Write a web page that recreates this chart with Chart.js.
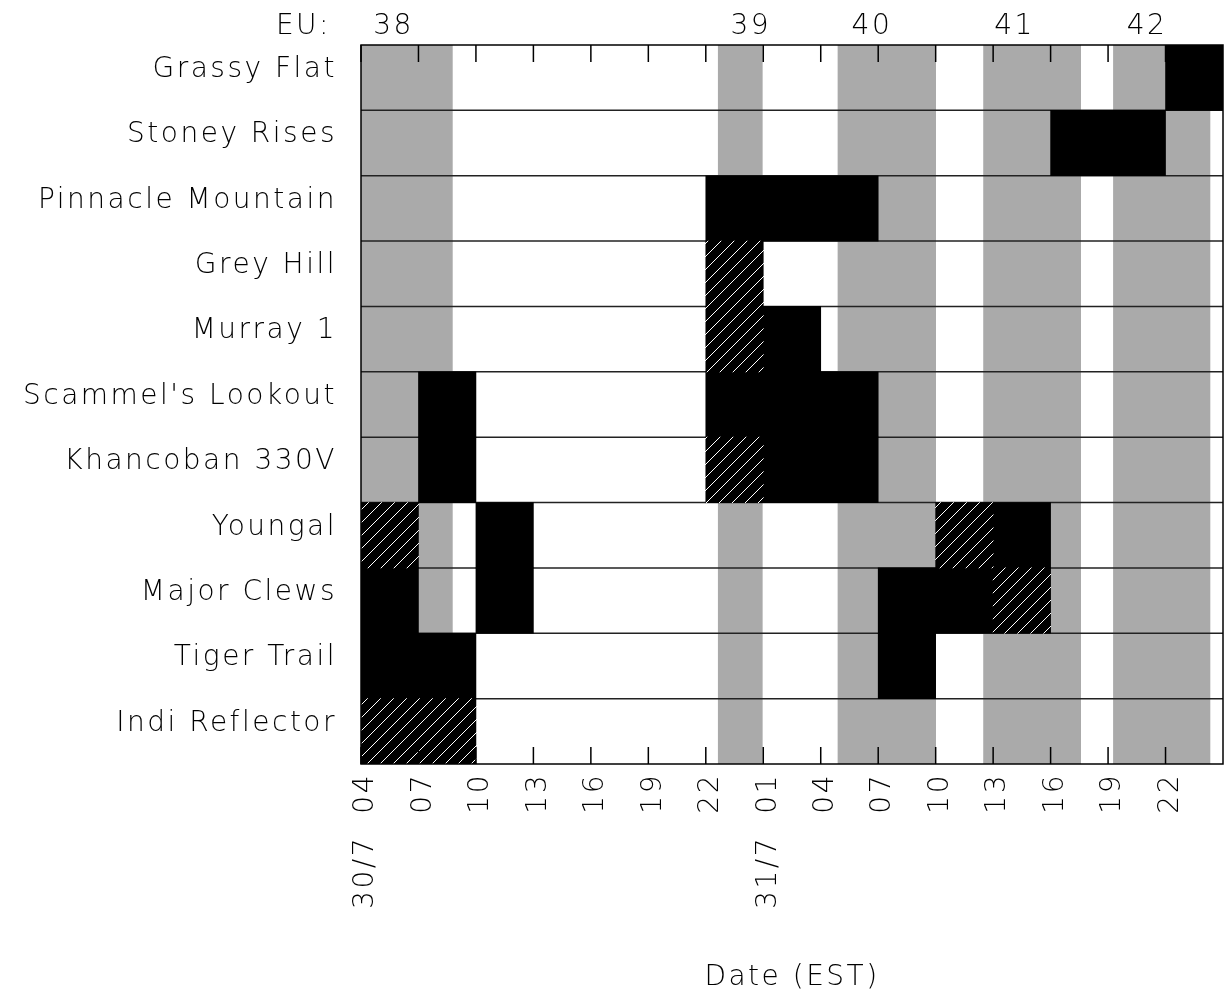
<!DOCTYPE html>
<html>
<head>
<meta charset="utf-8">
<script src="https://cdn.jsdelivr.net/npm/chart.js@4.4.1/dist/chart.umd.min.js"></script>
<style>
  html, body { margin: 0; padding: 0; background: #ffffff; }
  #wrap { width: 1224px; height: 997px; position: relative; }
</style>
</head>
<body>
<div id="wrap"><canvas id="c" width="1224" height="997"></canvas></div>
<script>
// ---- Data (hours after 04:00 on 30/7) ----
const stations = [
  'Grassy Flat', 'Stoney Rises', 'Pinnacle Mountain', 'Grey Hill', 'Murray 1',
  "Scammel's Lookout", 'Khancoban 330V', 'Youngal', 'Major Clews', 'Tiger Trail', 'Indi Reflector'
];

// grey periods per station
const greySegments = [
  [[0, 4.77], [18.65, 20.95], [24.9, 30], [32.5, 37.57], [39.28, 42]],
  [[0, 4.77], [18.65, 20.95], [24.9, 30], [32.5, 36], [42, 44.32]],
  [[0, 4.77], [27, 30], [32.5, 37.57], [39.28, 44.32]],
  [[0, 4.77], [24.9, 30], [32.5, 37.57], [39.28, 44.32]],
  [[0, 4.77], [24.9, 30], [32.5, 37.57], [39.28, 44.32]],
  [[0, 3], [27, 30], [32.5, 37.57], [39.28, 44.32]],
  [[0, 3], [27, 30], [32.5, 37.57], [39.28, 44.32]],
  [[3, 4.77], [18.65, 20.95], [24.9, 30], [36, 37.57], [39.28, 44.32]],
  [[3, 4.77], [18.65, 20.95], [24.9, 27], [36, 37.57], [39.28, 44.32]],
  [[18.65, 20.95], [24.9, 27], [32.5, 37.57], [39.28, 44.32]],
  [[18.65, 20.95], [24.9, 30], [32.5, 37.57], [39.28, 44.32]]
];

// black periods per station
const blackSegments = [
  [[42, 45]],
  [[36, 42]],
  [[18, 27]],
  [],
  [[21, 24]],
  [[3, 6], [18, 27]],
  [[3, 6], [21, 27]],
  [[6, 9], [33, 36]],
  [[0, 3], [6, 9], [27, 33]],
  [[0, 6], [27, 30]],
  []
];

// hatched periods per station
const hatchSegments = [
  [],
  [],
  [],
  [[18, 21]],
  [[18, 21]],
  [],
  [[18, 21]],
  [[0, 3], [30, 33]],
  [[33, 36]],
  [],
  [[0, 6]]
];

const tickHours  = [0, 3, 6, 9, 12, 15, 18, 21, 24, 27, 30, 33, 36, 39, 42];
const tickLabels = ['04','07','10','13','16','19','22','01','04','07','10','13','16','19','22'];
const dateHours  = [0, 21];
const dateLabels = ['30/7', '31/7'];
const euHours    = [1.7, 20.35, 26.67, 34.12, 41.03];
const euLabels   = ['38', '39', '40', '41', '42'];
const xMin = 0, xMax = 45;

// ---- Styles ----
const FONT_FAMILY = "'DejaVu Sans', sans-serif";
const FONT_SIZE = 28;
const FONT_WEIGHT = 200;
const LETTER_SP = '2.5px';
const GREY = '#aaaaaa';

function makeHatch() {
  const s = 13;
  const c = document.createElement('canvas');
  c.width = s; c.height = s;
  const g = c.getContext('2d');
  g.fillStyle = '#000';
  g.fillRect(0, 0, s, s);
  g.strokeStyle = '#fff';
  g.lineWidth = 1;
  g.beginPath();
  g.moveTo(-1, s + 1); g.lineTo(s + 1, -1);
  g.stroke();
  return g.createPattern(c, 'repeat');
}
const hatch = makeHatch();

function toPoints(segs) {
  const pts = [];
  segs.forEach((row, i) => row.forEach(s => pts.push({ x: [s[0], s[1]], y: stations[i] })));
  return pts;
}

const barCommon = {
  borderWidth: 0,
  borderSkipped: false,
  barPercentage: 1.0,
  categoryPercentage: 1.0,
  grouped: false
};

const fontStr = (sz) => `${FONT_WEIGHT} ${sz}px ${FONT_FAMILY}`;

const overlay = {
  id: 'overlay',
  beforeInit(chart) { chart.ctx.letterSpacing = LETTER_SP; },
  beforeDraw(chart) { chart.ctx.letterSpacing = LETTER_SP; },
  afterDatasetDraw(chart, args) {
    if (chart.data.datasets[args.index].label !== 'grey') return;
    const { ctx, chartArea: a } = chart;
    const ys = chart.scales.y;
    ctx.save();
    ctx.strokeStyle = '#222';
    ctx.lineWidth = 1.5;
    for (let i = 1; i < stations.length; i++) {
      const y = (ys.getPixelForValue(i - 1) + ys.getPixelForValue(i)) / 2;
      ctx.beginPath();
      ctx.moveTo(a.left, y);
      ctx.lineTo(a.right, y);
      ctx.stroke();
    }
    ctx.restore();
  },
  afterDraw(chart) {
    const { ctx, chartArea: a } = chart;
    const xs = chart.scales.x;
    ctx.save();
    ctx.letterSpacing = LETTER_SP;
    // inner tick marks
    ctx.strokeStyle = '#000';
    ctx.lineWidth = 1.5;
    tickHours.forEach(v => {
      const x = xs.getPixelForValue(v);
      ctx.beginPath();
      ctx.moveTo(x, a.top); ctx.lineTo(x, a.top + 17);
      ctx.moveTo(x, a.bottom); ctx.lineTo(x, a.bottom - 17);
      ctx.stroke();
    });
    // frame
    ctx.strokeRect(a.left, a.top, a.right - a.left, a.bottom - a.top);
    // EU labels
    ctx.fillStyle = '#000';
    ctx.font = fontStr(FONT_SIZE);
    ctx.textBaseline = 'alphabetic';
    ctx.textAlign = 'right';
    ctx.fillText('EU:', a.left - 30, 34);
    ctx.textAlign = 'center';
    euHours.forEach((h, i) => ctx.fillText(euLabels[i], xs.getPixelForValue(h), 34));
    // date labels (rotated)
    dateHours.forEach((h, i) => {
      const x = xs.getPixelForValue(h) + 5;
      ctx.save();
      ctx.translate(x, 836);
      ctx.rotate(-Math.PI / 2);
      ctx.textAlign = 'right';
      ctx.textBaseline = 'middle';
      ctx.fillText(dateLabels[i], 0, 0);
      ctx.restore();
    });
    ctx.restore();
  }
};

Chart.defaults.font.family = FONT_FAMILY;
Chart.defaults.font.size = FONT_SIZE;
Chart.defaults.font.weight = FONT_WEIGHT;
Chart.defaults.color = '#000';

new Chart(document.getElementById('c'), {
  type: 'bar',
  data: {
    labels: stations,
    datasets: [
      Object.assign({ label: 'hatched', data: toPoints(hatchSegments), backgroundColor: hatch, order: 1 }, barCommon),
      Object.assign({ label: 'black', data: toPoints(blackSegments), backgroundColor: '#000000', order: 2 }, barCommon),
      Object.assign({ label: 'grey', data: toPoints(greySegments), backgroundColor: GREY, order: 3 }, barCommon)
    ]
  },
  options: {
    indexAxis: 'y',
    responsive: false,
    animation: false,
    devicePixelRatio: 1,
    layout: { padding: { top: 45, right: 1, left: 0, bottom: 0 } },
    plugins: {
      legend: { display: false },
      tooltip: { enabled: false }
    },
    scales: {
      x: {
        type: 'linear',
        min: xMin,
        max: xMax,
        grid: { display: false, drawTicks: false },
        border: { display: false },
        afterBuildTicks(s) { s.ticks = tickHours.map(v => ({ value: v })); },
        afterFit(s) { s.height = 233; },
        ticks: {
          autoSkip: false,
          minRotation: 90,
          maxRotation: 90,
          padding: 9,
          labelOffset: 5,
          color: '#000',
          callback: (v, i) => tickLabels[i]
        },
        title: {
          display: true,
          text: 'Date (EST)',
          color: '#000',
          padding: { top: 0, bottom: 2 }
        }
      },
      y: {
        type: 'category',
        offset: true,
        grid: { display: false, drawTicks: false },
        border: { display: false },
        afterFit(s) { s.width = 361; },
        ticks: {
          padding: 24,
          labelOffset: -8,
          color: '#000'
        }
      }
    }
  },
  plugins: [overlay]
});
</script>
</body>
</html>
